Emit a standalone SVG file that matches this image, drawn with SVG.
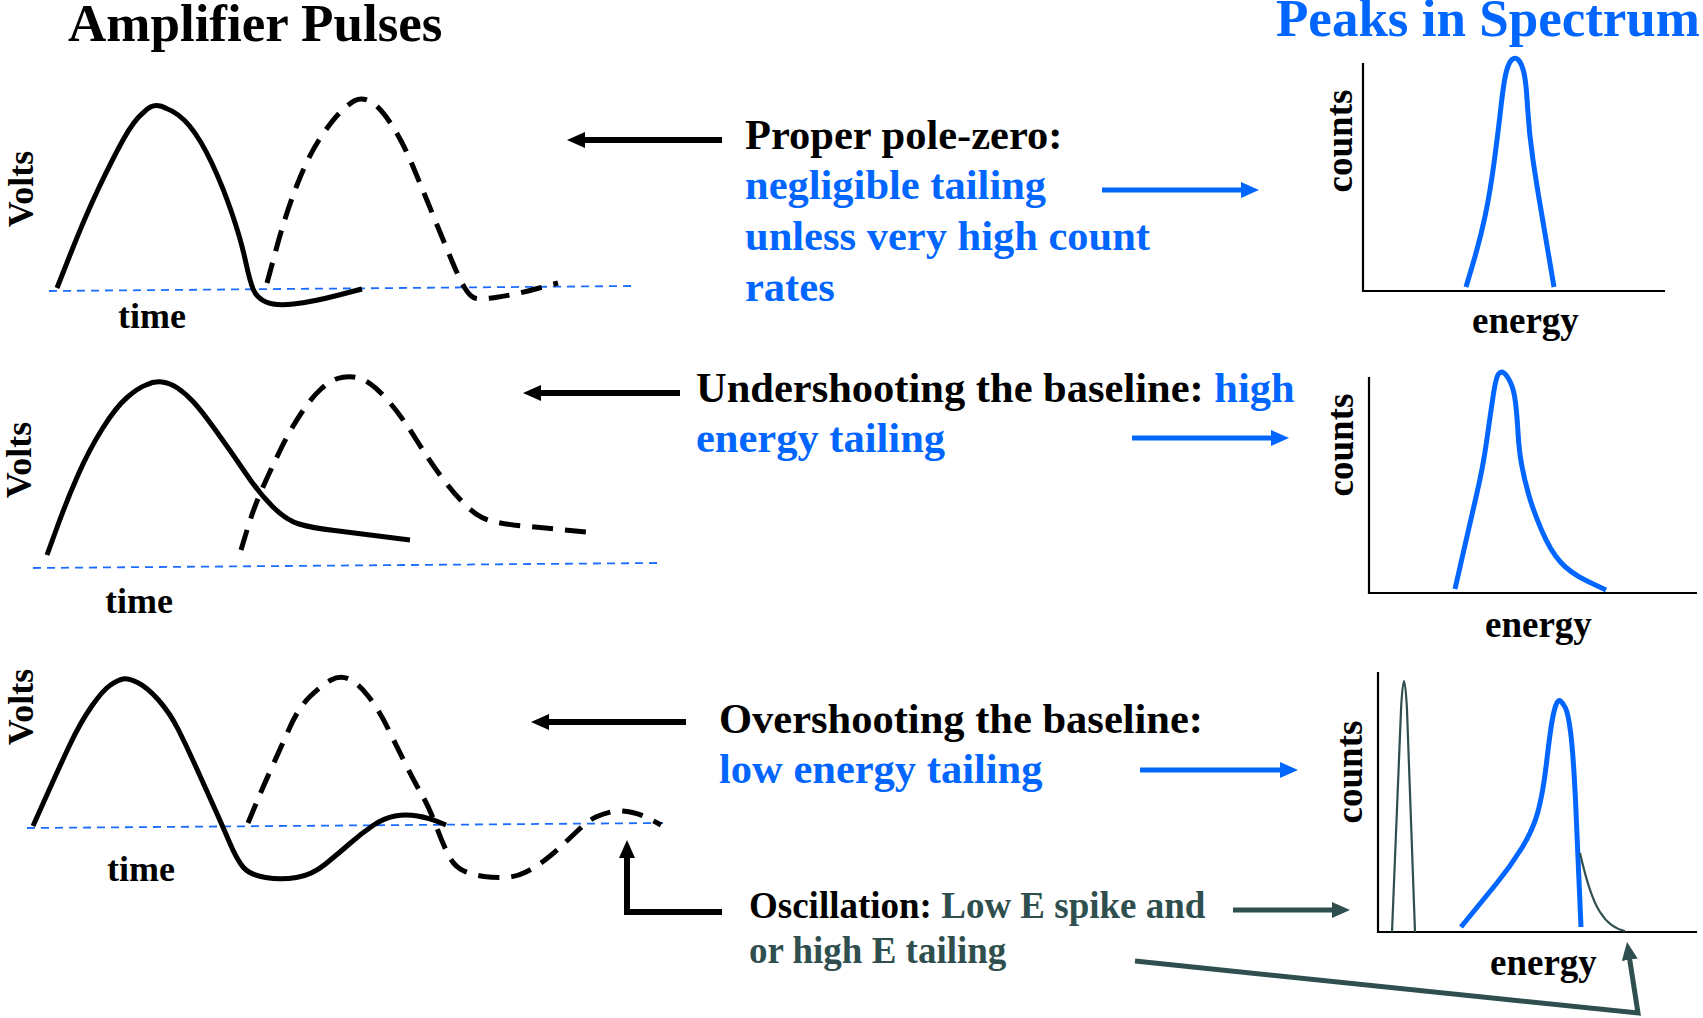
<svg xmlns="http://www.w3.org/2000/svg" width="1703" height="1018" viewBox="0 0 1703 1018">
<style>
text{font-family:"Liberation Serif","Times New Roman",serif;font-weight:bold}
.title{font-size:53px}
.body{font-size:42.5px}
.osc{font-size:37px}
.ax{font-size:36px}
.ax2{font-size:37px}
.k{fill:#000}
.b{fill:#0066FF}
.d{fill:#2F4F4F}
.pulse{fill:none;stroke:#000;stroke-width:5;stroke-linecap:butt;stroke-linejoin:round}
.dash{stroke-dasharray:21 12}
.base{fill:none;stroke:#1a6cff;stroke-width:1.8;stroke-dasharray:8 6}
.axis{fill:none;stroke:#000;stroke-width:2.2}
.peak{fill:none;stroke:#0066FF;stroke-width:5;stroke-linejoin:round}
.thin{fill:none;stroke:#2F4F4F;stroke-width:2.2;stroke-linejoin:round}
.ak{fill:none;stroke:#000;stroke-width:6}
.ab{fill:none;stroke:#0066FF;stroke-width:5}
.ad{fill:none;stroke:#2F4F4F;stroke-width:5;stroke-linejoin:miter}
</style>
<defs>
<marker id="hk" markerUnits="userSpaceOnUse" markerWidth="20" markerHeight="18" viewBox="0 0 20 18" refX="3" refY="8" orient="auto"><path d="M0,0 L18,8 L0,16 z" fill="#000"/></marker>
<marker id="hb" markerUnits="userSpaceOnUse" markerWidth="20" markerHeight="18" viewBox="0 0 20 18" refX="3" refY="8" orient="auto"><path d="M0,0 L18,8 L0,16 z" fill="#0066FF"/></marker>
<marker id="hd" markerUnits="userSpaceOnUse" markerWidth="20" markerHeight="18" viewBox="0 0 20 18" refX="3" refY="8" orient="auto"><path d="M0,0 L18,8 L0,16 z" fill="#2F4F4F"/></marker>
</defs>
<rect width="1703" height="1018" fill="#fff"/>

<g id="titles">
<text class="title k" x="68" y="41">Amplifier Pulses</text>
<text class="title b" x="1276" y="36">Peaks in Spectrum</text>
</g>

<g id="pulse1">
<path class="base" d="M49,291 L632,286"/>
<path class="pulse" d="M57,288 L71,252.5 Q85,217 98.5,188.5 Q112,160 123,140 Q134,120 144,112 Q154,101 166.5,108.5 Q179,113 190,126.5 Q201,140 212,163.5 Q223,187 232,213.5 Q241,240 245.5,261 Q250,282 253.5,290 Q257,298 266,302 Q275,306 293.5,304 Q312,302 337,295.5 L362,289"/>
<path class="pulse dash" d="M267,283 L276.5,248 Q286,213 297,185 Q308,157 319,140 Q330,123 339,113.5 Q348,104 355,100.5 Q362,97 370.5,101.5 Q379,106 390.5,123 Q402,140 413,166.5 Q424,193 435,220 Q446,247 453,263.5 Q460,280 464.5,287.5 Q469,295 473.5,297.5 Q478,300 495.5,297.5 Q513,295 535.5,289 L558,283"/>
<text class="ax k" text-anchor="middle" transform="translate(33,189) rotate(-90)">Volts</text>
<text class="ax k" x="118" y="328">time</text>
</g>

<g id="pulse2">
<path class="base" d="M33,568 L658,563"/>
<path class="pulse" d="M47,555 L57,527.5 Q67,500 78,475 Q89,450 102.5,428.5 Q116,407 127,397.5 Q138,388 146,385 Q154,381 162,382 Q170,383 177.5,388 Q185,393 193,401.5 Q201,410 216.5,431.5 Q232,453 245.5,473 Q259,493 272.5,506.5 Q286,520 299,524 Q312,528 334.5,530.5 L410,540"/>
<path class="pulse dash" d="M241,550 L247.5,528.5 Q254,507 263,487 Q272,467 281,448.5 Q290,430 301,413.5 Q312,397 321,389 Q330,381 337.5,378.5 Q345,376 353.5,377 Q362,378 370.5,384 Q379,390 390.5,403.5 Q402,417 415.5,438.5 Q429,460 440,475 Q451,490 462,501.5 Q473,513 482,517.5 Q491,522 513.5,525 L596,533"/>
<text class="ax k" text-anchor="middle" transform="translate(31,460) rotate(-90)">Volts</text>
<text class="ax k" x="105" y="613">time</text>
</g>

<g id="pulse3">
<path class="base" d="M27,828 L663,823"/>
<path class="pulse" d="M33,826 L45.5,798 Q58,770 69,746.5 Q80,723 91.5,706.5 Q103,690 110.5,685 Q118,680 123,679 Q128,678 137.5,682.5 Q147,687 158.5,700 Q170,713 178.5,730 Q187,747 196,767 Q205,787 214,807 Q223,827 230,843.5 Q237,860 243.5,867.5 Q250,875 265.5,877.5 Q281,880 296.5,877.5 Q312,875 325.5,864 Q339,853 350.5,843 Q362,833 373,825.5 Q384,818 395,816 Q406,814 417.5,816 Q429,818 437.5,821.5 L446,825"/>
<path class="pulse dash" d="M248,823 L255.5,805 Q263,787 272,767 Q281,747 290,727 Q299,707 310.5,696 Q322,685 331,680 Q340,675 349,679 Q358,683 368.5,696.5 Q379,710 388,728.5 Q397,747 406,765 Q415,783 422,795 Q429,807 436.5,827 Q444,847 449.5,857 Q455,867 464,871 Q473,875 484,876.5 Q495,878 505.5,877.5 Q516,877 526,872 Q536,867 545,860 Q554,853 562.5,845 Q571,837 580,828.5 Q589,820 597,816.5 Q605,813 613.5,811.5 Q622,810 632.5,812.5 Q643,815 652,820 L661,825"/>
<text class="ax k" text-anchor="middle" transform="translate(33,707) rotate(-90)">Volts</text>
<text class="ax k" x="107" y="881">time</text>
</g>

<g id="label1">
<text class="body k" x="745" y="149">Proper pole-zero:</text>
<text class="body b" x="745" y="199">negligible tailing</text>
<text class="body b" x="745" y="250">unless very high count</text>
<text class="body b" x="745" y="301">rates</text>
</g>

<g id="label2">
<text class="body k" x="696" y="402">Undershooting the baseline: <tspan class="b">high</tspan></text>
<text class="body b" x="696" y="452">energy tailing</text>
</g>

<g id="label3">
<text class="body k" x="719" y="733">Overshooting the baseline:</text>
<text class="body b" x="719" y="783">low energy tailing</text>
</g>

<g id="label4">
<text class="osc k" x="749" y="918">Oscillation: <tspan class="d">Low E spike and</tspan></text>
<text class="osc d" x="749" y="963">or high E tailing</text>
</g>

<g id="spectrum1">
<path class="axis" d="M1363,63 L1363,291 L1665,291"/>
<path class="peak" d="M1466,287 L1473,263.5 Q1480,240 1485,216.5 Q1490,193 1494,163 Q1498,133 1501,106.5 Q1504,80 1506.5,71 Q1509,62 1512,59.5 Q1515,57 1518,59.5 Q1521,62 1523.5,71 Q1526,80 1527.5,106.5 Q1529,133 1533,160 Q1537,187 1541,210 L1554,287"/>
<text class="ax2 k" text-anchor="middle" transform="translate(1352,141) rotate(-90)">counts</text>
<text class="ax2 k" x="1472" y="333">energy</text>
</g>

<g id="spectrum2">
<path class="axis" d="M1369,377 L1369,593 L1697,593"/>
<path class="peak" d="M1455,589 L1462.5,556 Q1470,523 1476.5,495 Q1483,467 1486.5,442 Q1490,417 1493,397 Q1496,377 1498.5,374 Q1501,371 1504,373 Q1507,375 1510.5,382.5 Q1514,390 1515.5,402.5 Q1517,415 1518,432.5 Q1519,450 1521.5,464 Q1524,478 1528.5,494 Q1533,510 1541.5,530 Q1550,550 1560,561.5 Q1570,573 1588,581.5 L1606,590"/>
<text class="ax2 k" text-anchor="middle" transform="translate(1353,445) rotate(-90)">counts</text>
<text class="ax2 k" x="1485" y="637">energy</text>
</g>

<g id="spectrum3">
<path class="axis" d="M1378,672 L1378,932 L1697,932"/>
<path class="thin" d="M1392,932 L1401,710 Q1404,652 1407,710 L1415,932"/>
<path class="peak" d="M1461,927 L1472,913.5 Q1483,900 1496.5,883.5 Q1510,867 1521.5,848.5 Q1533,830 1538,811.5 Q1543,793 1546.5,763 Q1550,733 1552,721.5 Q1554,710 1556,705 Q1558,699 1560.5,701 Q1563,703 1565.5,708 Q1568,713 1570.5,731.5 Q1573,750 1575.5,800 L1581,927"/>
<path class="thin" d="M1580,853 Q1590,897 1600,912 Q1610,928 1625,931"/>
<text class="ax2 k" text-anchor="middle" transform="translate(1362,772) rotate(-90)">counts</text>
<text class="ax2 k" x="1490" y="975">energy</text>
</g>

<g id="connectors">
<path class="ak" d="M722,140 L582,140" marker-end="url(#hk)"/>
<path class="ak" d="M680,393 L538,393" marker-end="url(#hk)"/>
<path class="ak" d="M686,722 L546,722" marker-end="url(#hk)"/>
<path class="ak" d="M722,912 L627,912 L627,855" marker-end="url(#hk)"/>
<path class="ab" d="M1102,190 L1244,190" marker-end="url(#hb)"/>
<path class="ab" d="M1132,438 L1274,438" marker-end="url(#hb)"/>
<path class="ab" d="M1140,770 L1283,770" marker-end="url(#hb)"/>
<path class="ad" d="M1233,910 L1335,910" marker-end="url(#hd)"/>
<path class="ad" d="M1135,961 L1638,1013 L1629.3,956.8" marker-end="url(#hd)"/>
</g>
</svg>
